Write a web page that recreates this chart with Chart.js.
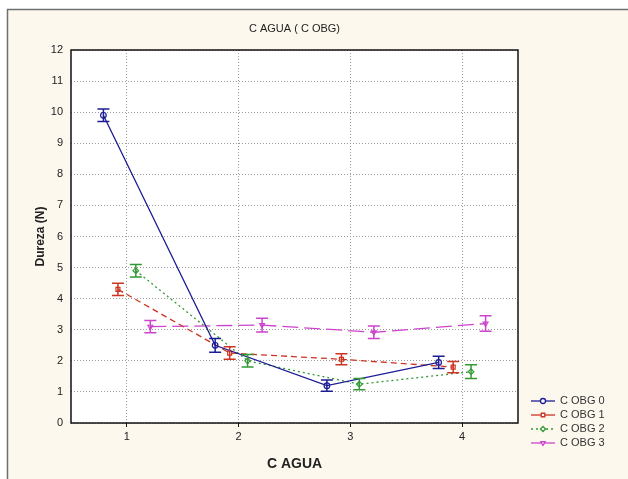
<!DOCTYPE html>
<html>
<head>
<meta charset="utf-8">
<script src="https://cdn.jsdelivr.net/npm/chart.js@4"></script>
<style>
  html, body { margin: 0; padding: 0; background: #ffffff; }
  #wrap { width: 628px; height: 479px; position: relative; }
</style>
</head>
<body>
<div id="wrap"><canvas id="myChart" width="628" height="479"></canvas></div>
<script>
// categories on the x axis (C AGUA) and the offset each series is drawn at
const categories = [1, 2, 3, 4];
const seriesNames = ["C OBG 0", "C OBG 1", "C OBG 2", "C OBG 3"];
const seriesOffsets = [-0.21, -0.08, 0.08, 0.21];

// Dureza (N) means
const cobg0 = [9.9, 2.5, 1.2, 1.95];
const cobg1 = [4.3, 2.25, 2.05, 1.8];
const cobg2 = [4.9, 2.0, 1.25, 1.65];
const cobg3 = [3.1, 3.15, 2.92, 3.2];

// half length of the error bars
const err0 = [0.2, 0.22, 0.18, 0.2];
const err1 = [0.2, 0.2, 0.18, 0.18];
const err2 = [0.2, 0.2, 0.18, 0.22];
const err3 = [0.2, 0.22, 0.2, 0.25];

const yTicks = [0, 1, 2, 3, 4, 5, 6, 7, 8, 9, 10, 11, 12];

const values = [cobg0, cobg1, cobg2, cobg3];
const errors = [err0, err1, err2, err3];
const colors = ["#1c1c96", "#cc3322", "#339933", "#cc44cc"];
const dashes = [[], [6, 4], [2, 3], [16, 6]];
const markers = ["circle", "rect", "rectRot", "triangle"];
const rotations = [0, 0, 0, 180];

const toPoints = (vals, off) =>
  categories.map((c, i) => ({ x: c + off, y: vals[i] }));

const datasets = values.map((vals, s) => ({
  label: seriesNames[s],
  data: toPoints(vals, seriesOffsets[s]),
  borderColor: colors[s],
  backgroundColor: "#ffffff",
  borderWidth: 1.3,
  borderDash: dashes[s],
  pointStyle: markers[s],
  pointRotation: rotations[s],
  pointRadius: 2.8,
  pointBorderWidth: 1.2,
  pointBorderColor: colors[s],
  pointBackgroundColor: "rgba(255,255,255,0)",
  tension: 0,
  errors: errors[s]
}));

// page background, outer frame and white plot area
const bgPlugin = {
  id: "bg",
  beforeDraw(chart) {
    const { ctx, chartArea } = chart;
    ctx.save();
    ctx.fillStyle = "#fdf8ee";
    ctx.fillRect(7, 9, chart.width - 7, chart.height - 9);
    ctx.strokeStyle = "#6b6f73";
    ctx.lineWidth = 1.5;
    ctx.beginPath();
    ctx.moveTo(7.5, chart.height);
    ctx.lineTo(7.5, 9.5);
    ctx.lineTo(chart.width, 9.5);
    ctx.stroke();
    ctx.fillStyle = "#ffffff";
    ctx.fillRect(chartArea.left, chartArea.top,
      chartArea.right - chartArea.left, chartArea.bottom - chartArea.top);
    ctx.restore();
  },
  afterDraw(chart) {
    const { ctx, chartArea } = chart;
    ctx.save();
    ctx.strokeStyle = "#111111";
    ctx.lineWidth = 1.5;
    ctx.strokeRect(chartArea.left, chartArea.top,
      chartArea.right - chartArea.left, chartArea.bottom - chartArea.top);
    ctx.restore();
  }
};

// error bars with caps, placed through the chart scales
const errorBarPlugin = {
  id: "errorBars",
  afterDatasetsDraw(chart) {
    const { ctx, scales } = chart;
    ctx.save();
    chart.data.datasets.forEach((ds) => {
      ctx.strokeStyle = ds.borderColor;
      ctx.lineWidth = 1.5;
      ctx.setLineDash([]);
      ds.data.forEach((p, i) => {
        const x = scales.x.getPixelForValue(p.x);
        const yHi = scales.y.getPixelForValue(p.y + ds.errors[i]);
        const yLo = scales.y.getPixelForValue(p.y - ds.errors[i]);
        ctx.beginPath();
        ctx.moveTo(x, yHi);
        ctx.lineTo(x, yLo);
        ctx.moveTo(x - 6, yHi);
        ctx.lineTo(x + 6, yHi);
        ctx.moveTo(x - 6, yLo);
        ctx.lineTo(x + 6, yLo);
        ctx.stroke();
      });
    });
    ctx.restore();
  }
};

// legend with line samples in the lower right margin
const legendPlugin = {
  id: "sideLegend",
  afterDraw(chart) {
    const { ctx, chartArea } = chart;
    ctx.save();
    ctx.font = "11px 'Liberation Sans', Arial, sans-serif";
    ctx.textBaseline = "middle";
    chart.data.datasets.forEach((ds, s) => {
      const y = 401 + s * 14;
      const x0 = chartArea.right + 13;
      ctx.strokeStyle = ds.borderColor;
      ctx.lineWidth = 1.3;
      ctx.setLineDash(s === 2 ? [2, 3] : []);
      ctx.beginPath();
      ctx.moveTo(x0, y);
      ctx.lineTo(x0 + 24, y);
      ctx.stroke();
      ctx.setLineDash([]);
      ctx.fillStyle = "#ffffff";
      Chart.helpers.drawPoint(ctx, {
        pointStyle: ds.pointStyle, rotation: ds.pointRotation,
        radius: 2.5, borderWidth: 1.2
      }, x0 + 12, y);
      ctx.fillStyle = "#333333";
      ctx.fillText(ds.label, x0 + 29, y);
    });
    ctx.restore();
  }
};

const ctx = document.getElementById("myChart").getContext("2d");
const myChart = new Chart(ctx, {
  type: "line",
  data: { datasets: datasets },
  plugins: [bgPlugin, errorBarPlugin, legendPlugin],
  options: {
    responsive: false,
    animation: false,
    layout: { padding: { left: 10, right: 110, top: 10, bottom: 4 } },
    plugins: {
      legend: { display: false },
      tooltip: { enabled: false },
      title: {
        display: true,
        text: "C AGUA ( C OBG)",
        fullSize: false,
        color: "#222222",
        font: { family: "'Liberation Sans', Arial, sans-serif", size: 11, weight: "normal" },
        padding: { top: 12.4, bottom: 14.4 }
      }
    },
    scales: {
      x: {
        type: "linear",
        min: 0.5,
        max: 4.5,
        afterFit: (scale) => { scale.height = 52; },
        afterBuildTicks: (scale) => {
          scale.ticks = categories.map((v) => ({ value: v }));
        },
        border: { display: false, dash: [1, 2] },
        grid: {
          color: "#9a9a9a",
          lineWidth: 1,
          tickLength: 4,
          tickColor: "#111111"
        },
        ticks: {
          color: "#222222",
          padding: 3,
          font: { family: "'Liberation Sans', Arial, sans-serif", size: 11 }
        },
        title: {
          display: true,
          text: "C AGUA",
          color: "#222222",
          font: { family: "'Liberation Sans', Arial, sans-serif", size: 14, weight: "bold" },
          padding: { top: 0, bottom: 2 }
        }
      },
      y: {
        min: 0,
        max: 12,
        afterFit: (scale) => { scale.width = 61; },
        afterBuildTicks: (scale) => {
          scale.ticks = yTicks.map((v) => ({ value: v }));
        },
        border: { display: false, dash: [1, 2] },
        grid: {
          color: "#9a9a9a",
          lineWidth: 1,
          drawTicks: false
        },
        ticks: {
          color: "#222222",
          padding: 8,
          font: { family: "'Liberation Sans', Arial, sans-serif", size: 11 }
        },
        title: {
          display: true,
          text: "Dureza (N)",
          color: "#222222",
          font: { family: "'Liberation Sans', Arial, sans-serif", size: 12, weight: "bold" },
          padding: { top: 23, bottom: 0 }
        }
      }
    }
  }
});
</script>
</body>
</html>
